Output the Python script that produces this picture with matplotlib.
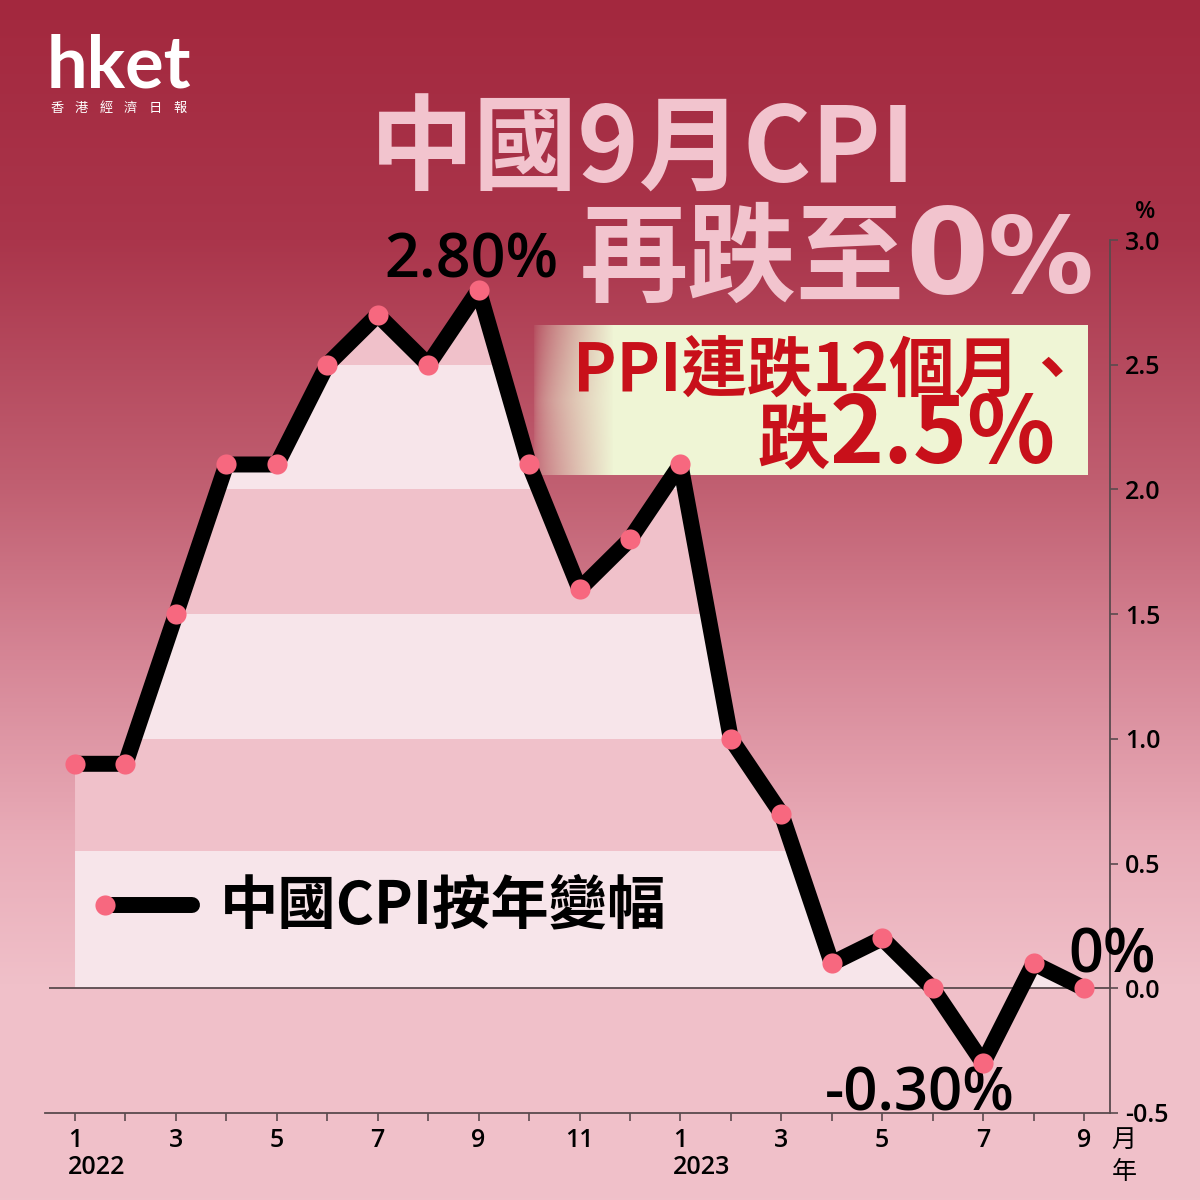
import numpy as np
import matplotlib
matplotlib.use("Agg")
import matplotlib.pyplot as plt
from matplotlib.lines import Line2D
from matplotlib.patches import Polygon
import matplotlib.transforms as mtransforms

# data
months = list(range(1, 22))
cpi = [0.9, 0.9, 1.5, 2.1, 2.1, 2.5, 2.7, 2.5, 2.8, 2.1, 1.6, 1.8,
       2.1, 1.0, 0.7, 0.1, 0.2, 0.0, -0.3, 0.1, 0.0]
tick_labels = ["1", "", "3", "", "5", "", "7", "", "9", "", "11", "",
               "1", "", "3", "", "5", "", "7", "", "9"]
year_pos = [1, 13]
year_labels = ["2022", "2023"]
yticks = [-0.5, 0.0, 0.5, 1.0, 1.5, 2.0, 2.5, 3.0]
stripe_edges = [0.0, 0.55, 1.0, 1.5, 2.0, 2.5, 3.0]
logo_chars = ["香", "港", "經", "濟", "日", "報"]

CJK = ["Noto Sans CJK TC", "DejaVu Sans"]
NUM = ["Open Sans", "Noto Sans", "DejaVu Sans"]
TITLE_PINK = "#F2C4CE"
DOT = "#F7687F"
LIGHT = "#F7E5EA"
PINK = "#F0C1CA"

W = H = 1200


def fx(px):
    return px / W


def fy(py):
    return 1 - py / H


fig = plt.figure(figsize=(12, 12), dpi=100)

# background gradient
bg = fig.add_axes([0, 0, 1, 1], zorder=-10)
stops = [(0.00, (163, 40, 62)), (0.20, (170, 53, 75)), (0.40, (192, 94, 112)),
         (0.55, (214, 134, 150)), (0.70, (233, 172, 184)), (0.82, (240, 192, 201)),
         (1.00, (240, 193, 202))]
t = np.linspace(0, 1, 600)
pos = [s[0] for s in stops]
grad = np.stack([np.interp(t, pos, [s[1][c] for s in stops]) for c in range(3)], axis=-1) / 255
bg.imshow(grad[:, None, :], aspect="auto", extent=[0, 1, 0, 1])
bg.set_axis_off()

# PPI box with soft left edge
bx0, bx1, by0, by1 = 533, 1088, 325, 475
box = fig.add_axes([fx(bx0), fy(by1), fx(bx1 - bx0), (by1 - by0) / H], zorder=-5)
bw, bh = bx1 - bx0, by1 - by0
xx, yy = np.meshgrid(np.arange(bw), np.arange(bh))
f = np.sqrt(np.clip(xx / 80, 0, 1))
edge = np.clip(1 - np.abs(yy - bh / 2) / (bh / 2), 0, 1)
alpha = np.clip(f * (1 - (1 - f) * 0.5 * (1 - edge)), 0, 1)
img = np.zeros((bh, bw, 4))
img[..., 0], img[..., 1], img[..., 2] = 239 / 255, 245 / 255, 213 / 255
img[..., 3] = alpha
box.imshow(img, aspect="auto", extent=[0, 1, 0, 1])
box.set_axis_off()

# main chart
ax = fig.add_axes([fx(45), fy(1113), fx(1110 - 45), (1113 - 240) / H], zorder=1)
ax.patch.set_alpha(0)
ax.set_xlim(0.405, 21.515)
ax.set_ylim(-0.5, 3.0)

# striped area under the line
verts = [(months[0], 0)] + list(zip(months, cpi)) + [(months[-1], 0)]
clip_poly = Polygon(verts, closed=True, transform=ax.transData, facecolor="none", edgecolor="none")
ax.add_patch(clip_poly)
for i in range(len(stripe_edges) - 1):
    span = ax.axhspan(stripe_edges[i], stripe_edges[i + 1], color=LIGHT if i % 2 == 0 else PINK,
                      lw=0, zorder=1)
    span.set_clip_path(clip_poly)

ax.plot([0.48, 21.515], [0, 0], color="#5a4a4e", lw=1.3, zorder=2, solid_capstyle="butt")
ax.plot(months, cpi, color="black", lw=11.5, solid_joinstyle="round", solid_capstyle="butt", zorder=4)
ax.plot(months, cpi, "o", color=DOT, ms=14.5, mec="none", zorder=5)

for sp in ["top", "left"]:
    ax.spines[sp].set_visible(False)
for sp in ["bottom", "right"]:
    ax.spines[sp].set_color("#5a4a4e")
    ax.spines[sp].set_linewidth(1.3)

ax.set_xticks(months)
ax.set_xticklabels(tick_labels)
ax.set_yticks(yticks)
ax.set_yticklabels([f"{v:.1f}" for v in yticks])
ax.yaxis.tick_right()
ax.tick_params(axis="both", length=6, width=1.2, color="#5a4a4e", labelsize=18, pad=5)
for lab in ax.get_xticklabels() + ax.get_yticklabels():
    lab.set_family(NUM)
    lab.set_fontweight("semibold")

trans = mtransforms.blended_transform_factory(ax.transData, ax.transAxes)
for m, yl in zip(year_pos, year_labels):
    ax.text(m - 0.15, -0.063, yl, transform=trans, ha="left", va="center",
            fontsize=18, family=NUM, fontweight="semibold")

# value annotations
ax.text(months[8] - 0.15, cpi[8] + 0.05, "2.80%", ha="center", va="baseline",
        fontsize=44, family=NUM, fontweight="semibold")
ax.text(months[18] - 1.25, cpi[18] - 0.19, "-0.30%", ha="center", va="baseline",
        fontsize=43, family=NUM, fontweight="semibold")
ax.text(months[20] + 0.55, cpi[20] + 0.065, "0%", ha="center", va="baseline",
        fontsize=44, family=NUM, fontweight="semibold")

# axis unit labels
fig.text(fx(1145), fy(212), "%", ha="center", va="center", fontsize=17, family=NUM, fontweight="semibold")
fig.text(fx(1124), fy(1140), "月", ha="center", va="center", fontsize=18, family=CJK)
fig.text(fx(1124), fy(1172), "年", ha="center", va="center", fontsize=18, family=CJK)

# titles
fig.text(fx(370), fy(183), "中國9月CPI", ha="left", va="baseline", fontsize=75,
         family=CJK, fontweight="heavy", color=TITLE_PINK)
fig.text(fx(905), fy(293), "再跌至", ha="right", va="baseline", fontsize=78,
         family=CJK, fontweight="heavy", color=TITLE_PINK)
fig.text(fx(905), fy(293), "0", ha="left", va="baseline", fontsize=86,
         family=["DejaVu Sans"], fontweight="bold", color=TITLE_PINK)
fig.text(fx(988), fy(293), "%", ha="left", va="baseline", fontsize=76,
         family=["DejaVu Sans"], fontweight="bold", color=TITLE_PINK)

# PPI box text
fig.text(fx(1085), fy(392), "PPI連跌12個月、", ha="right", va="baseline", fontsize=47,
         family=CJK, fontweight="heavy", color="#C8101A")
fig.text(fx(830), fy(463), "跌", ha="right", va="baseline", fontsize=52,
         family=CJK, fontweight="heavy", color="#C8101A")
fig.text(fx(830), fy(463), "2.5%", ha="left", va="baseline", fontsize=66,
         family=CJK, fontweight="heavy", color="#C8101A")

# legend
fig.add_artist(Line2D([fx(105), fx(192)], [fy(905), fy(905)], color="black", lw=11.5,
                      solid_capstyle="round"))
fig.add_artist(Line2D([fx(105)], [fy(905)], marker="o", color=DOT, ms=14.5, mec="none", lw=0))
fig.text(fx(220), fy(906), "中國CPI按年變幅", ha="left", va="center", fontsize=42,
         family=CJK, fontweight="heavy", color="black")

# logo
fig.text(fx(47), fy(101), "hket", ha="left", va="bottom", fontsize=52,
         family=["Lato", "DejaVu Sans"], fontweight="bold", color="white")
for i, ch in enumerate(logo_chars):
    fig.text(fx(57 + i * 24.5), fy(102), ch, ha="center", va="top", fontsize=9.5,
             family=CJK, color="white")

fig.savefig("out.png", dpi=100)
